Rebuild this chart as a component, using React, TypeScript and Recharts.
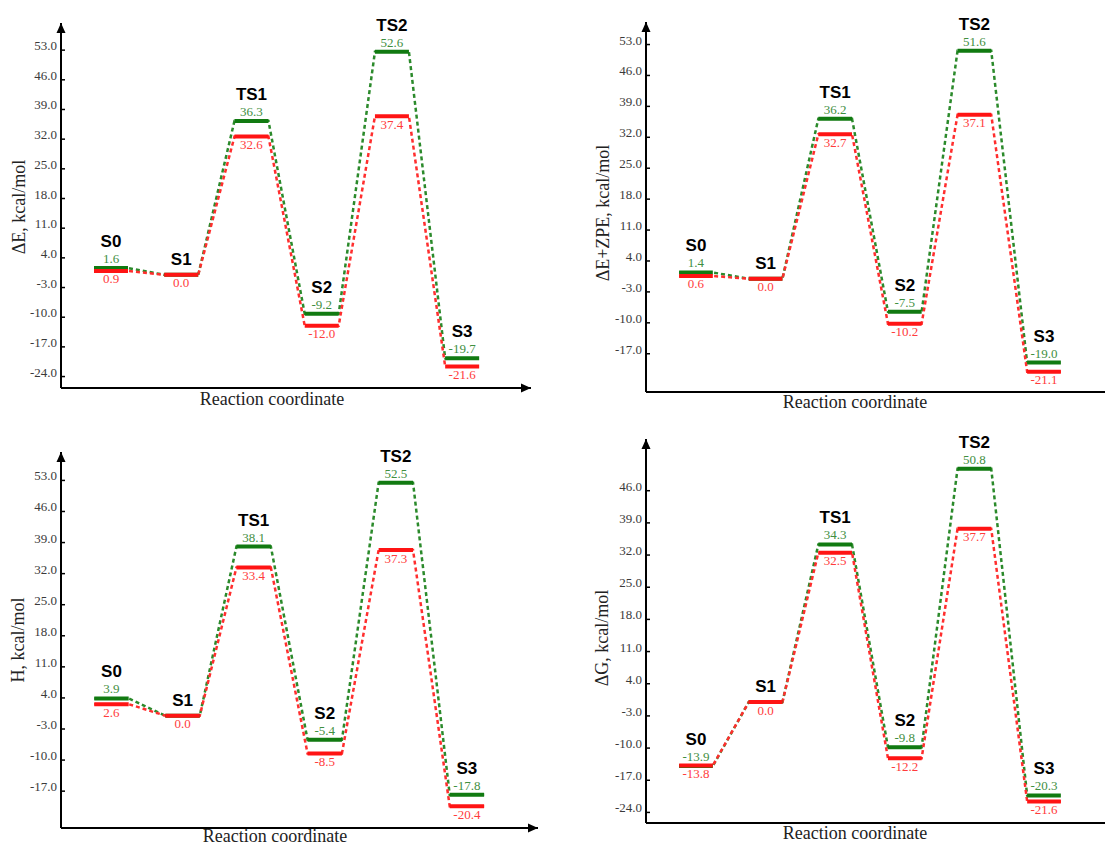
import React from 'react';
import { ComposedChart, Line, XAxis, YAxis, ReferenceDot, LabelList } from 'recharts';

// ---------- data ----------
const states = ['S0', 'S1', 'TS1', 'S2', 'TS2', 'S3'];
const statePositions = [1, 2, 3, 4, 5, 6];

const ticksFull = [53, 46, 39, 32, 25, 18, 11, 4, -3, -10, -17, -24];
const ticksNoBottom = [53, 46, 39, 32, 25, 18, 11, 4, -3, -10, -17];
const ticksNoTop = [46, 39, 32, 25, 18, 11, 4, -3, -10, -17, -24];

const dEGreen = [1.6, 0.0, 36.3, -9.2, 52.6, -19.7];
const dERed = [0.9, 0.0, 32.6, -12.0, 37.4, -21.6];
const dEZpeGreen = [1.4, 0.0, 36.2, -7.5, 51.6, -19.0];
const dEZpeRed = [0.6, 0.0, 32.7, -10.2, 37.1, -21.1];
const hGreen = [3.9, 0.0, 38.1, -5.4, 52.5, -17.8];
const hRed = [2.6, 0.0, 33.4, -8.5, 37.3, -20.4];
const gGreen = [-13.9, 0.0, 34.3, -9.8, 50.8, -20.3];
const gRed = [-13.8, 0.0, 32.5, -12.2, 37.7, -21.6];

const yTitles = ['\u0394E, kcal/mol', '\u0394E+ZPE, kcal/mol', 'H, kcal/mol', '\u0394G, kcal/mol'];
const xTitle = 'Reaction coordinate';

// ---------- style ----------
const HW = 0.242; // half width of a level, in x units
const GREEN_BAR = '#117a11';
const GREEN_DASH = '#2b8a2b';
const GREEN_TEXT = '#3f8f3f';
const RED_BAR = '#ff1414';
const RED_DASH = '#ff2e2e';
const RED_TEXT = '#ff3c3c';
const SERIF = "'Liberation Serif', 'Times New Roman', serif";
const SANS = "'Liberation Sans', Arial, sans-serif";

const panels = [
  {
    green: dEGreen, red: dERed, ticks: ticksFull, yTitle: yTitles[0],
    box: { left: 0, top: 0, width: 560, height: 420 },
    plot: { left: 61, right: 531, top: 23, bottom: 388 },
    xDomain: [0.288, 6.98], yDomain: [-26.7, 59.4],
    yTitlePos: { x: 19, y: 207 }, xTitlePos: { x: 272, y: 405 },
  },
  {
    green: dEZpeGreen, red: dEZpeRed, ticks: ticksNoBottom, yTitle: yTitles[1],
    box: { left: 560, top: 0, width: 560, height: 420 },
    plot: { left: 86, right: 555, top: 22, bottom: 392 },
    xDomain: [0.282, 7.02], yDomain: [-25.66, 58.1],
    yTitlePos: { x: 43, y: 213 }, xTitlePos: { x: 295, y: 408 },
  },
  {
    green: hGreen, red: hRed, ticks: ticksNoBottom, yTitle: yTitles[2],
    box: { left: 0, top: 420, width: 560, height: 425 },
    plot: { left: 61, right: 538, top: 32, bottom: 408 },
    xDomain: [0.29, 7.0], yDomain: [-25.3, 59.4],
    yTitlePos: { x: 18, y: 220 }, xTitlePos: { x: 275, y: 421.5 },
  },
  {
    green: gGreen, red: gRed, ticks: ticksNoTop, yTitle: yTitles[3],
    box: { left: 560, top: 420, width: 560, height: 425 },
    plot: { left: 86, right: 555, top: 19, bottom: 403 },
    xDomain: [0.282, 7.02], yDomain: [-26.3, 57.25],
    yTitlePos: { x: 42, y: 218 }, xTitlePos: { x: 295, y: 419 },
  },
];

function dashPoints(values: number[]) {
  return values.flatMap((v, i) => [
    { x: statePositions[i] - HW, y: v },
    { x: statePositions[i] + HW, y: v },
  ]);
}

function barPoints(values: number[]) {
  return values.flatMap((v, i) => [
    { x: statePositions[i] - HW, y: v },
    { x: statePositions[i] + HW, y: v },
    { x: statePositions[i] + 0.5, y: null as number | null },
  ]);
}

function labelPoints(green: number[], red: number[]) {
  return green.map((g, i) => {
    const same = g === red[i];
    return {
      x: statePositions[i],
      g,
      r: red[i],
      gl: same ? '' : g.toFixed(1),
      rl: red[i].toFixed(1),
      nameFar: same ? '' : states[i],
      nameNear: same ? states[i] : '',
    };
  });
}

function makeText(dy: number, fill: string, family: string, size: number, weight: string) {
  return (props: any) => {
    const value = props.value;
    if (value === undefined || value === null || value === '') return null;
    const x = props.x ?? props.viewBox?.x;
    const y = props.y ?? props.viewBox?.y;
    return (
      <text x={x} y={y + dy} textAnchor="middle" fill={fill} fontFamily={family} fontSize={size} fontWeight={weight}>
        {value}
      </text>
    );
  };
}

const greenValueText = makeText(-5, GREEN_TEXT, SERIF, 13, 'normal');
const redValueText = makeText(12.5, RED_TEXT, SERIF, 13, 'normal');
const nameFarText = makeText(-21, '#000', SANS, 17, 'bold');
const nameNearText = makeText(-10, '#000', SANS, 17, 'bold');

const YTick = (props: any) => {
  const { x, y, payload } = props;
  return (
    <g>
      <line x1={x + 4} x2={x + 8} y1={y} y2={y} stroke="#000" strokeWidth={1.5} />
      <text x={x} y={y} textAnchor="end" fill="#3a3a3a" fontFamily={SERIF} fontSize={13}>
        {Number(payload.value).toFixed(1)}
      </text>
    </g>
  );
};

const upArrow = (props: any) => {
  const { cx, cy } = props;
  return <polygon points={`${cx},${cy} ${cx - 4.5},${cy + 10} ${cx + 4.5},${cy + 10}`} fill="#000" />;
};
const rightArrow = (props: any) => {
  const { cx, cy } = props;
  return <polygon points={`${cx},${cy} ${cx - 10},${cy - 4.5} ${cx - 10},${cy + 4.5}`} fill="#000" />;
};

function EnergyPanel({ cfg }: { cfg: any }) {
  const { box, plot, xDomain, yDomain, ticks, green, red, yTitle, yTitlePos, xTitlePos } = cfg;
  const margin = { top: plot.top, right: box.width - plot.right, left: 0, bottom: 0 };
  const labels = labelPoints(green, red);

  const yLabel = () => (
    <text
      x={yTitlePos.x}
      y={yTitlePos.y}
      transform={`rotate(-90, ${yTitlePos.x}, ${yTitlePos.y})`}
      textAnchor="middle"
      dominantBaseline="central"
      fill="#222"
      fontFamily={SERIF}
      fontSize={18}
    >
      {yTitle}
    </text>
  );
  const xLabel = () => (
    <text x={xTitlePos.x} y={xTitlePos.y} textAnchor="middle" fill="#222" fontFamily={SERIF} fontSize={18}>
      {xTitle}
    </text>
  );

  return (
    <div style={{ position: 'absolute', left: box.left, top: box.top, width: box.width, height: box.height }}>
      <ComposedChart width={box.width} height={box.height} margin={margin}>
        <XAxis
          type="number"
          dataKey="x"
          domain={xDomain}
          allowDataOverflow
          tick={false}
          tickLine={false}
          axisLine={{ stroke: '#000', strokeWidth: 2 }}
          height={box.height - plot.bottom}
          label={xLabel}
        />
        <YAxis
          type="number"
          domain={yDomain}
          allowDataOverflow
          ticks={ticks}
          interval={0}
          tickSize={0}
          tickMargin={4}
          tickLine={false}
          axisLine={{ stroke: '#000', strokeWidth: 2 }}
          width={plot.left}
          tick={<YTick />}
          label={yLabel}
        />
        <Line data={dashPoints(green)} dataKey="y" stroke={GREEN_DASH} strokeWidth={2.5} strokeDasharray="4 3" dot={false} activeDot={false} isAnimationActive={false} />
        <Line data={dashPoints(red)} dataKey="y" stroke={RED_DASH} strokeWidth={2.5} strokeDasharray="4 3" dot={false} activeDot={false} isAnimationActive={false} />
        <Line data={barPoints(green)} dataKey="y" stroke={GREEN_BAR} strokeWidth={4} connectNulls={false} dot={false} activeDot={false} isAnimationActive={false} />
        <Line data={barPoints(red)} dataKey="y" stroke={RED_BAR} strokeWidth={4} connectNulls={false} dot={false} activeDot={false} isAnimationActive={false} />
        <Line data={labels} dataKey="g" stroke="none" dot={false} activeDot={false} isAnimationActive={false}>
          <LabelList dataKey="gl" content={greenValueText} />
          <LabelList dataKey="nameFar" content={nameFarText} />
          <LabelList dataKey="nameNear" content={nameNearText} />
        </Line>
        <Line data={labels} dataKey="r" stroke="none" dot={false} activeDot={false} isAnimationActive={false}>
          <LabelList dataKey="rl" content={redValueText} />
        </Line>
        <ReferenceDot x={xDomain[0]} y={yDomain[1]} r={0} shape={upArrow} ifOverflow="visible" />
        <ReferenceDot x={xDomain[1]} y={yDomain[0]} r={0} shape={rightArrow} ifOverflow="visible" />
      </ComposedChart>
    </div>
  );
}

export default function App() {
  return (
    <div style={{ position: 'absolute', left: 0, top: 0, width: 1105, height: 845, overflow: 'hidden', background: '#fff' }}>
      {panels.map((p, i) => (
        <EnergyPanel key={i} cfg={p} />
      ))}
    </div>
  );
}
